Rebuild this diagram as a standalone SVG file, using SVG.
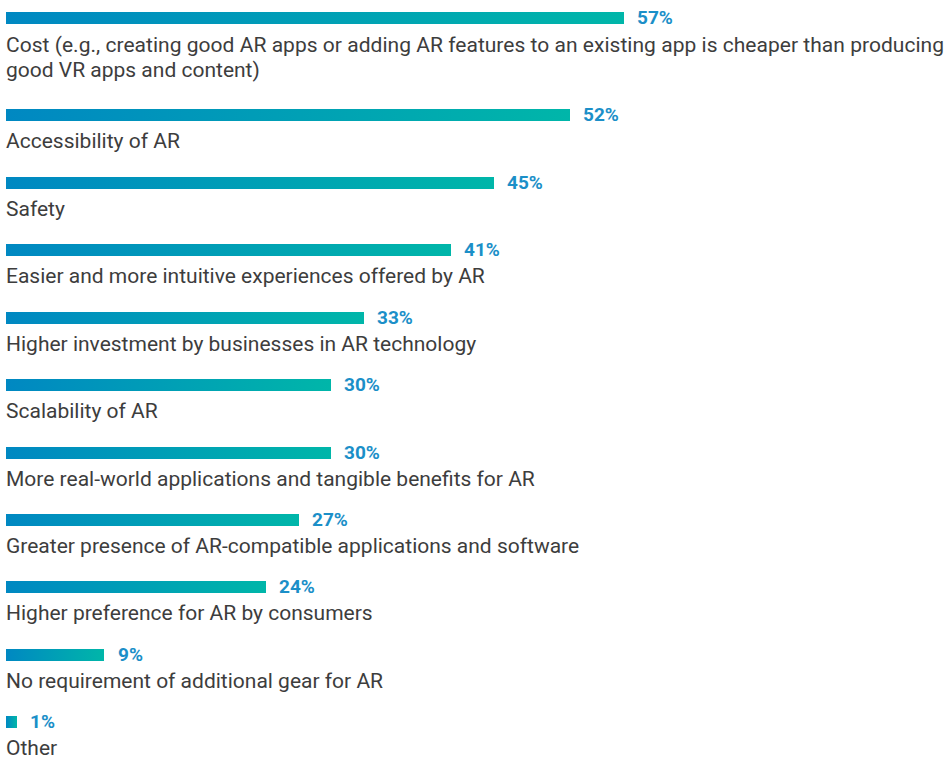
<svg xmlns="http://www.w3.org/2000/svg" width="950" height="759" viewBox="0 0 950 759">
<defs>
<linearGradient id="g" x1="0" y1="0" x2="1" y2="0">
<stop offset="0" stop-color="#0088c2"/>
<stop offset="1" stop-color="#00b6a9"/>
</linearGradient>
<style>
.bar{fill:url(#g)}
.lbl{font-family:Roboto,"Liberation Sans",sans-serif;font-size:21px;fill:#3d3d3d}
.pct{font-family:Roboto,"Liberation Sans",sans-serif;font-size:19px;font-weight:bold;fill:#1b8fc8}
</style>
</defs>
<rect width="950" height="759" fill="#ffffff"/>
<g id="row1"><rect class="bar" x="6" y="12" width="618" height="12"/><text class="pct" x="637" y="24">57%</text>
<text class="lbl" x="6" y="52" textLength="938" lengthAdjust="spacing">Cost (e.g., creating good AR apps or adding AR features to an existing app is cheaper than producing</text>
<text class="lbl" x="6" y="77">good VR apps and content)</text></g>
<g id="row2"><rect class="bar" x="6" y="109" width="564" height="12"/><text class="pct" x="583" y="121">52%</text>
<text class="lbl" x="6" y="148">Accessibility of AR</text></g>
<g id="row3"><rect class="bar" x="6" y="177" width="488" height="12"/><text class="pct" x="507" y="189">45%</text>
<text class="lbl" x="6" y="216">Safety</text></g>
<g id="row4"><rect class="bar" x="6" y="244" width="445" height="12"/><text class="pct" x="464" y="256">41%</text>
<text class="lbl" x="6" y="283">Easier and more intuitive experiences offered by AR</text></g>
<g id="row5"><rect class="bar" x="6" y="312" width="358" height="12"/><text class="pct" x="377" y="324">33%</text>
<text class="lbl" x="6" y="351">Higher investment by businesses in AR technology</text></g>
<g id="row6"><rect class="bar" x="6" y="379" width="325" height="12"/><text class="pct" x="344" y="391">30%</text>
<text class="lbl" x="6" y="418">Scalability of AR</text></g>
<g id="row7"><rect class="bar" x="6" y="447" width="325" height="12"/><text class="pct" x="344" y="459">30%</text>
<text class="lbl" x="6" y="486">More real-world applications and tangible benefits for AR</text></g>
<g id="row8"><rect class="bar" x="6" y="514" width="293" height="12"/><text class="pct" x="312" y="526">27%</text>
<text class="lbl" x="6" y="553">Greater presence of AR-compatible applications and software</text></g>
<g id="row9"><rect class="bar" x="6" y="581" width="260" height="12"/><text class="pct" x="279" y="593">24%</text>
<text class="lbl" x="6" y="620">Higher preference for AR by consumers</text></g>
<g id="row10"><rect class="bar" x="6" y="649" width="98" height="12"/><text class="pct" x="118" y="661">9%</text>
<text class="lbl" x="6" y="688">No requirement of additional gear for AR</text></g>
<g id="row11"><rect class="bar" x="6" y="716" width="11" height="12"/><text class="pct" x="30" y="728">1%</text>
<text class="lbl" x="6" y="755">Other</text></g>
</svg>
